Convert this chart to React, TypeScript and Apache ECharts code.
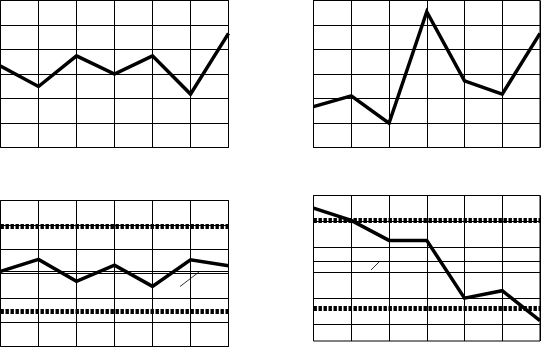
import React, { useEffect, useRef } from "react";
import * as echarts from "echarts";

// Sampling periods shared by all four panels
const periods = ["1", "2", "3", "4", "5", "6", "7"];

// Measured values per panel (0–60 scale)
const seriesA = [33.3, 24.9, 37.4, 30.0, 37.4, 21.8, 46.6];
const seriesB = [16.7, 21.1, 9.9, 55.4, 27.2, 21.8, 46.6];
const seriesC = [30.9, 35.8, 26.8, 33.4, 24.7, 35.6, 33.2];
const seriesD = [55.1, 50.3, 42.5, 42.5, 20.0, 22.9, 11.2];

// Control limits (upper / centre / lower) for the two lower panels
const limitsC = [49.5, 30.8, 14.6];
const limitsD = [50.3, 34.3, 16.2];

// Horizontal grid levels
const gridLevels = [10, 20, 30, 40, 50];
const yMax = 60;
const yMinD = 3.3;

const BLACK = "#000";

const grids = [
  { left: 0.5, top: 0.5, width: 228, height: 147 },
  { left: 313.5, top: 0.5, width: 226.5, height: 147 },
  { left: 0.5, top: 200.5, width: 228, height: 146 },
  { left: 313.5, top: 195.5, width: 226.5, height: 145.5 },
].map((g) => ({
  ...g,
  show: true,
  borderColor: BLACK,
  borderWidth: 1,
  backgroundColor: "transparent",
}));

const xAxes = grids.map((_, i) => ({
  type: "category",
  gridIndex: i,
  data: periods,
  boundaryGap: false,
  axisLine: { show: false },
  axisTick: { show: false },
  axisLabel: { show: false },
  splitLine: { show: true, lineStyle: { color: BLACK, width: 1 } },
}));

const yAxes = grids.map((_, i) =>
  i < 3
    ? {
        type: "value",
        gridIndex: i,
        min: 0,
        max: yMax,
        interval: 10,
        axisLine: { show: false },
        axisTick: { show: false },
        axisLabel: { show: false },
        splitLine: { show: true, lineStyle: { color: BLACK, width: 1 } },
      }
    : {
        type: "value",
        gridIndex: i,
        min: yMinD,
        max: yMax,
        axisLine: { show: false },
        axisTick: { show: false },
        axisLabel: { show: false },
        splitLine: { show: false },
      }
);

const solidLine = (v: number) => ({
  yAxis: v,
  lineStyle: { color: BLACK, width: 1, type: "solid" },
});
const dottedLine = (v: number) => ({
  yAxis: v,
  lineStyle: { color: BLACK, width: 5, type: [3.4, 1.6] },
});

const refSeries = (i: number, items: any[]) => ({
  type: "line",
  xAxisIndex: i,
  yAxisIndex: i,
  data: [],
  z: 1,
  silent: true,
  markLine: {
    silent: true,
    symbol: ["none", "none"],
    label: { show: false },
    emphasis: { disabled: true },
    data: items,
  },
});

const dataSeries = (i: number, values: number[]) => ({
  type: "line",
  xAxisIndex: i,
  yAxisIndex: i,
  data: values,
  symbol: "none",
  showSymbol: false,
  silent: true,
  z: 3,
  lineStyle: { color: BLACK, width: 3.5, join: "miter" },
});

const option = {
  animation: false,
  backgroundColor: "#fff",
  grid: grids,
  xAxis: xAxes,
  yAxis: yAxes,
  series: [
    dataSeries(0, seriesA),
    dataSeries(1, seriesB),
    refSeries(2, [dottedLine(limitsC[0]), solidLine(limitsC[1]), dottedLine(limitsC[2])]),
    dataSeries(2, seriesC),
    refSeries(3, [
      ...gridLevels.map(solidLine),
      dottedLine(limitsD[0]),
      solidLine(limitsD[1]),
      dottedLine(limitsD[2]),
    ]),
    dataSeries(3, seriesD),
  ],
  graphic: [
    {
      type: "line",
      shape: { x1: 180, y1: 286.5, x2: 199, y2: 272 },
      style: { stroke: "#333", lineWidth: 1 },
    },
    {
      type: "line",
      shape: { x1: 371, y1: 270, x2: 379, y2: 262 },
      style: { stroke: "#333", lineWidth: 1 },
    },
  ],
};

export default function App() {
  const ref = useRef<HTMLDivElement>(null);
  useEffect(() => {
    const chart = echarts.init(ref.current!, null, { renderer: "svg" });
    chart.setOption(option as any);
    return () => chart.dispose();
  }, []);
  return (
    <div
      ref={ref}
      style={{ position: "fixed", left: 0, top: 0, width: 541, height: 347, background: "#fff" }}
    />
  );
}
